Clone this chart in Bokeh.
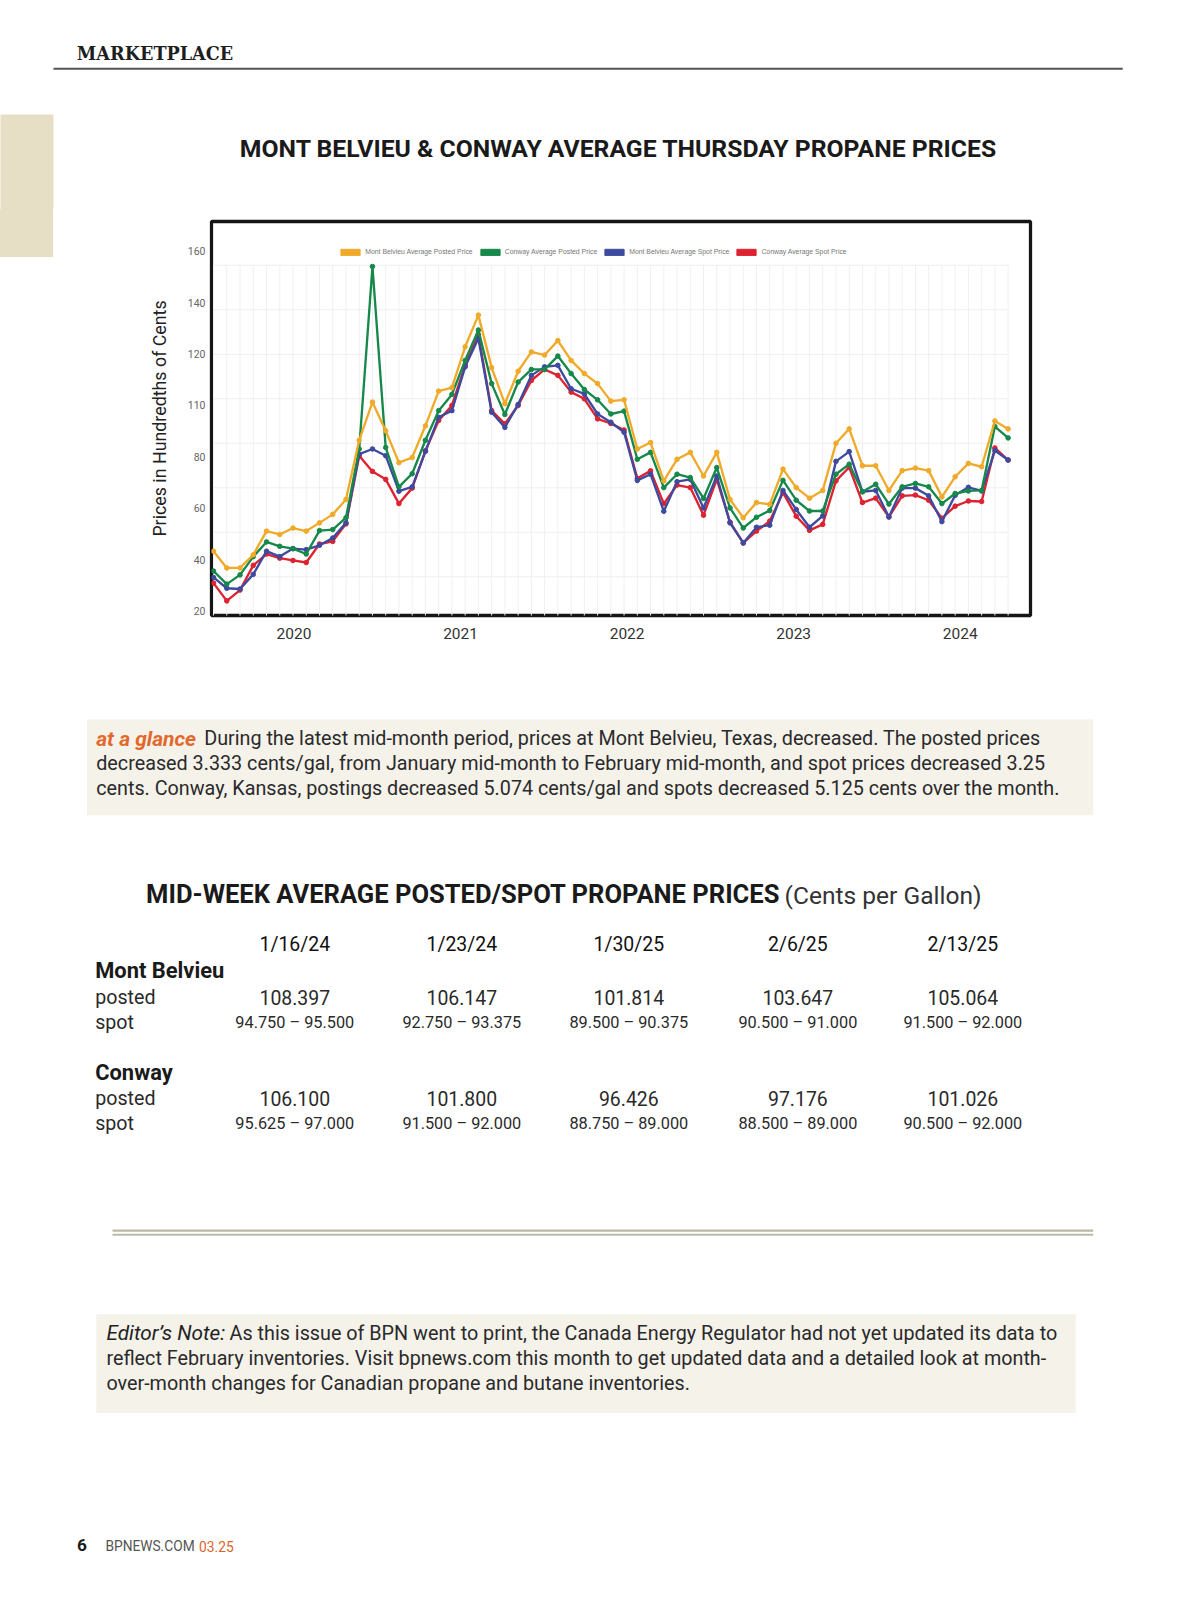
import numpy as np
from bokeh.plotting import figure
from bokeh.models import Range1d, LinearAxis, FixedTicker, Legend, LegendItem, Div
from bokeh.layouts import column, row
from bokeh.core.properties import value
from bokeh.embed import file_html
from bokeh.resources import INLINE

# ---------------- data ----------------
series_names = ["Mont Belvieu Average Posted Price", "Conway Average Posted Price",
                "Mont Belvieu Average Spot Price", "Conway Average Spot Price"]
series_colors = ["#f0aa2a", "#15884a", "#3e4a9e", "#dd2230"]

mb_posted = [43.4, 36.9, 36.9, 42.0, 51.2, 49.9, 52.4, 51.2, 54.4, 57.7, 63.5, 86.5, 101.3, 90.2, 77.8,
             79.8, 92.1, 105.6, 106.9, 122.8, 135.1, 114.7, 100.7, 113.3, 120.8, 119.6, 125.2, 117.5, 112.4, 108.5,
             101.7, 102.2, 83.1, 85.6, 70.7, 79.1, 81.8, 72.6, 81.8, 63.5, 56.4, 62.3, 61.6, 75.3, 68.1,
             64.0, 67.0, 85.3, 90.9, 76.6, 76.6, 67.0, 74.7, 75.7, 74.7, 64.5, 72.3, 77.5, 76.2, 94.0, 90.9]
cw_posted = [35.7, 30.6, 34.2, 41.3, 47.0, 45.3, 44.4, 42.3, 51.4, 51.8, 56.4, 83.1, 154.0, 83.7, 68.4,
             73.5, 86.5, 98.0, 104.3, 117.5, 129.3, 108.5, 96.5, 109.1, 114.0, 114.0, 119.2, 112.4, 106.2, 102.2,
             96.7, 97.8, 79.1, 81.8, 68.1, 73.3, 72.0, 63.9, 75.9, 60.2, 52.4, 56.6, 59.2, 70.9, 63.2,
             59.0, 59.0, 73.3, 77.2, 66.5, 69.4, 61.7, 68.4, 69.7, 68.4, 61.9, 65.8, 66.8, 67.0, 91.8, 87.4]
mb_spot = [33.2, 29.0, 28.7, 34.4, 43.4, 41.3, 44.4, 44.0, 45.7, 48.5, 54.4, 81.1, 83.1, 80.5, 66.7,
           68.4, 82.2, 95.4, 98.0, 115.0, 126.1, 97.4, 91.5, 100.4, 111.7, 115.0, 115.6, 106.5, 104.5, 96.7,
           93.5, 89.6, 70.9, 73.3, 58.9, 70.4, 71.3, 60.2, 72.6, 54.4, 46.6, 52.7, 53.5, 67.0, 59.6,
           52.7, 57.1, 78.3, 82.1, 66.5, 67.0, 56.7, 67.9, 67.9, 64.9, 54.9, 65.1, 68.2, 66.8, 82.5, 78.8]
cw_spot = [31.0, 24.1, 28.3, 37.9, 42.3, 40.7, 39.8, 39.0, 46.2, 47.2, 54.0, 80.5, 74.4, 71.3, 61.9,
           67.9, 82.4, 94.2, 100.0, 115.6, 127.4, 98.0, 92.9, 100.0, 109.7, 114.0, 111.7, 105.2, 102.6, 94.8,
           93.0, 90.5, 71.7, 74.6, 61.9, 69.1, 68.1, 57.4, 71.3, 54.7, 46.6, 51.2, 55.1, 66.1, 57.0,
           51.5, 53.8, 70.7, 76.0, 62.3, 64.0, 56.7, 64.9, 65.2, 63.2, 56.2, 60.9, 62.9, 62.7, 83.5, 78.8]

y_ticks = [20, 40, 60, 80, 100, 120, 140, 160]
y_tick_labels = ["20", "40", "60", "80", "110", "120", "140", "160"]
grid_ticks = [20, 40, 60, 80, 100, 120, 140, 160]
year_ticks = [2020, 2021, 2022, 2023, 2024]

chart_title = "MONT BELVIEU & CONWAY AVERAGE THURSDAY PROPANE PRICES"
y_label = "Prices in Hundredths of Cents"

glance_lead = "at a glance"
glance_lines = ["During the latest mid-month period, prices at Mont Belvieu, Texas, decreased. The posted prices",
                "decreased 3.333 cents/gal, from January mid-month to February mid-month, and spot prices decreased 3.25",
                "cents. Conway, Kansas, postings decreased 5.074 cents/gal and spots decreased 5.125 cents over the month."]

table_title = "MID-WEEK AVERAGE POSTED/SPOT PROPANE PRICES"
table_unit = "(Cents per Gallon)"
col_dates = ["1/16/24", "1/23/24", "1/30/25", "2/6/25", "2/13/25"]
mb_posted_tbl = [108.397, 106.147, 101.814, 103.647, 105.064]
mb_spot_low = [94.750, 92.750, 89.500, 90.500, 91.500]
mb_spot_high = [95.500, 93.375, 90.375, 91.000, 92.000]
cw_posted_tbl = [106.100, 101.800, 96.426, 97.176, 101.026]
cw_spot_low = [95.625, 91.500, 88.750, 88.500, 90.500]
cw_spot_high = [97.000, 92.000, 89.000, 89.000, 92.000]

note_lead = "Editor\u2019s Note:"
note_lines = ["As this issue of BPN went to print, the Canada Energy Regulator had not yet updated its data to",
              "reflect February inventories. Visit bpnews.com this month to get updated data and a detailed look at month-",
              "over-month changes for Canadian propane and butane inventories."]

# ---------------- layout helpers (picture px -> CSS px) ----------------
S = 1 / 0.982       # the page is photographed at ~0.982 of its CSS size
SANS = "Roboto"
W = 1120
TAB_W = 52
TAB_COLOR = "#e6dfc6"


def css(v):
    return int(round(v * S))


def fs(v):
    return f"{v * S:.2f}px"


W_css = css(W)
TAB_css = css(TAB_W)
TOP_css = css(205)
CH_css = css(445)
BOT_css = css(890)
y_top1 = TOP_css / S
y_ch1 = y_top1 + CH_css / S
y_bot1 = y_ch1 + BOT_css / S


def canvas(w_css, h_css, x0, x1, y0, y1):
    p = figure(width=w_css, height=h_css, x_range=Range1d(x0, x1), y_range=Range1d(y1, y0),
               x_axis_type=None, y_axis_type=None, toolbar_location=None,
               output_backend="svg", outline_line_color=None,
               min_border_left=0, min_border_right=0, min_border_top=0, min_border_bottom=0)
    p.background_fill_color = "white"
    p.border_fill_color = "white"
    return p


def txt(p, x, y, s, size, font=SANS, style="normal", color="#2a2a2a", align="left"):
    p.text(x=[x], y=[y], text=[s], text_font=value(font), text_font_size=fs(size),
           text_font_style=style, text_color=color, text_align=align, text_baseline="middle")


# ---------------- top strip ----------------
top = canvas(W_css, TOP_css, 0, W_css / S, 0, y_top1)
top.quad(left=[-2], right=[52], top=[112], bottom=[y_top1 + 3], fill_color=TAB_COLOR, line_color=None)
txt(top, 75, 52, "MARKETPLACE", 17.3, font="DejaVu Serif", style="bold", color="#1e1e1e")
top.segment(x0=[52], y0=[67], x1=[1102], y1=[67], line_color="#555555", line_width=2 * S)
txt(top, 607, 145, chart_title, 24.3, style="bold", color="#1a1a1a", align="center")

# ---------------- tab strip beside chart (plain block, not a plot) ----------------
tab_h = css(252 - y_top1)
tab = Div(width=TAB_css, height=CH_css, margin=(0, 0, 0, 0),
          text=f'<div style="width:{TAB_css}px;height:{tab_h}px;background:{TAB_COLOR};"></div>')

# ---------------- chart ----------------
idx = list(range(len(mb_posted)))
pc = figure(width=W_css - TAB_css, height=CH_css,
            x_range=Range1d(-0.154, 61.69), y_range=Range1d(18.42, 171.47),
            x_axis_type=None, y_axis_type=None, toolbar_location=None, output_backend="svg",
            min_border_left=css(207 - TAB_W), min_border_right=(W_css - TAB_css) - css(207 - TAB_W) - css(804),
            min_border_top=css(217 - y_top1), min_border_bottom=CH_css - css(217 - y_top1) - css(387))
pc.outline_line_color = "#151515"
pc.outline_line_width = 3.2 * S
pc.background_fill_color = "white"
pc.border_fill_color = "white"
pc.extra_y_ranges = {"grid": Range1d(2.62, 179.67)}
pc.extra_x_ranges = {"yr": Range1d(2019.505, 2024.422)}

# faint grid of the embedded chart image (its own scale)
pc.segment(x0=idx, y0=[0] * len(idx), x1=idx, y1=[160] * len(idx), y_range_name="grid",
           line_color="#f0f0f0", line_width=1)
pc.segment(x0=[idx[0]] * len(grid_ticks), y0=grid_ticks, x1=[idx[-1]] * len(grid_ticks), y1=grid_ticks,
           y_range_name="grid", line_color="#eeeeee", line_width=1)

all_series = [mb_posted, cw_posted, mb_spot, cw_spot]
for vals, col in reversed(list(zip(all_series, series_colors))):
    pc.line(idx, vals, line_color=col, line_width=2.3 * S)
    pc.scatter(idx, vals, size=4.5 * S, fill_color=col, line_color=col)

items = []
for name, col in zip(series_names, series_colors):
    r = pc.quad(left=[np.nan], right=[np.nan], top=[np.nan], bottom=[np.nan],
                fill_color=col, line_color=col, line_width=1)
    items.append(LegendItem(label=name, renderers=[r]))
leg = Legend(items=items, location=(125 * S, 353 * S), orientation="horizontal",
             glyph_width=css(24), glyph_height=css(8), label_height=css(8),
             label_standoff=css(3), spacing=css(5),
             padding=0, margin=0, border_line_color=None, background_fill_alpha=0,
             label_text_font="Liberation Sans", label_text_font_size=fs(6.75),
             label_text_color="#777777", label_text_baseline="middle")
pc.add_layout(leg)

yax = LinearAxis(ticker=FixedTicker(ticks=y_ticks),
                 major_label_overrides={t: l for t, l in zip(y_ticks, y_tick_labels)},
                 axis_label=y_label)
yax.axis_line_color = None
yax.major_tick_line_color = None
yax.minor_tick_line_color = None
yax.major_tick_out = 0
yax.major_tick_in = 0
yax.minor_tick_out = 0
yax.major_label_standoff = css(6)
yax.major_label_text_font = SANS
yax.major_label_text_font_size = fs(10.3)
yax.major_label_text_color = "#666666"
yax.axis_label_text_font = SANS
yax.axis_label_text_font_size = fs(17.5)
yax.axis_label_text_font_style = "normal"
yax.axis_label_text_color = "#222222"
yax.axis_label_standoff = css(15)
pc.add_layout(yax, "left")

xax = LinearAxis(x_range_name="yr", ticker=FixedTicker(ticks=year_ticks),
                 major_label_overrides={t: str(t) for t in year_ticks})
xax.axis_line_color = None
xax.major_tick_line_color = None
xax.minor_tick_line_color = None
xax.major_tick_out = 0
xax.major_tick_in = 0
xax.minor_tick_out = 0
xax.major_label_standoff = css(12)
xax.major_label_text_font = SANS
xax.major_label_text_font_size = fs(15.2)
xax.major_label_text_color = "#333333"
pc.add_layout(xax, "below")

# ---------------- bottom part ----------------
bt = canvas(W_css, BOT_css, 0, W_css / S, y_ch1, y_bot1)
BEIGE = "#f5f2ea"
BODY = 19.4
bt.quad(left=[85], right=[1073], top=[706], bottom=[800], fill_color=BEIGE, line_color=None)
txt(bt, 94, 725, glance_lead, 20.6, style="bold italic", color="#e2682b")
txt(bt, 200, 725, glance_lines[0], BODY)
txt(bt, 94, 749, glance_lines[1], BODY)
txt(bt, 94, 774, glance_lines[2], BODY)

txt(bt, 143, 877, table_title, 25.1, style="bold", color="#1a1a1a")
txt(bt, 770, 879, table_unit, 24.1, color="#333333")

col_x = [289, 453, 617, 783, 945]
for cx, d in zip(col_x, col_dates):
    txt(bt, cx, 927, d, 19.1, color="#111111", align="center")

txt(bt, 93, 953, "Mont Belvieu", 21.5, style="bold", color="#1a1a1a")
txt(bt, 93, 979, "posted", 19.3)
txt(bt, 93, 1004, "spot", 19.3)
for cx, v, lo, hi in zip(col_x, mb_posted_tbl, mb_spot_low, mb_spot_high):
    txt(bt, cx, 979, f"{v:.3f}", 19.1, align="center")
    txt(bt, cx, 1004, f"{lo:.3f} \u2013 {hi:.3f}", 16, align="center")

txt(bt, 93, 1053, "Conway", 21.5, style="bold", color="#1a1a1a")
txt(bt, 93, 1078, "posted", 19.3)
txt(bt, 93, 1103, "spot", 19.3)
for cx, v, lo, hi in zip(col_x, cw_posted_tbl, cw_spot_low, cw_spot_high):
    txt(bt, cx, 1078, f"{v:.3f}", 19.1, align="center")
    txt(bt, cx, 1103, f"{lo:.3f} \u2013 {hi:.3f}", 16, align="center")

bt.segment(x0=[110, 110], y0=[1208, 1212], x1=[1073, 1073], y1=[1208, 1212],
           line_color="#bcbaa7", line_width=2 * S)

bt.quad(left=[94], right=[1056], top=[1290], bottom=[1387], fill_color=BEIGE, line_color=None)
txt(bt, 104, 1309, note_lead, 20.4, style="italic", color="#222222")
txt(bt, 225, 1309, note_lines[0], BODY)
txt(bt, 104, 1334, note_lines[1], BODY)
txt(bt, 104, 1358, note_lines[2], BODY)

txt(bt, 80, 1517, "6", 17, style="bold", color="#1a1a1a", align="center")
txt(bt, 103, 1518, "BPNEWS.COM", 13.5, color="#555555")
txt(bt, 195, 1518, "03.25", 13.5, color="#d9652c")

layout = column(top, row(tab, pc), bt)
open("out.html", "w").write(file_html(layout, INLINE))
